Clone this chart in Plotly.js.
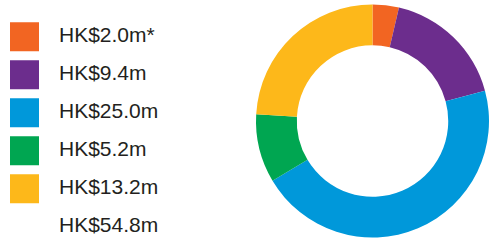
<!DOCTYPE html>
<html>
<head>
<meta charset="utf-8">
<script src="https://cdn.plot.ly/plotly-3.0.1.min.js"></script>
<style>
html,body{margin:0;padding:0;background:#fff;}
#chart{width:489px;height:242px;}
</style>
</head>
<body>
<div id="chart"></div>
<script>
// Data
const labels = ["HK$2.0m*", "HK$9.4m", "HK$25.0m", "HK$5.2m", "HK$13.2m"];
const values = [2.0, 9.4, 25.0, 5.2, 13.2];
const colors = ["#F26522", "#6C2D8D", "#0098DA", "#00A651", "#FDB81A"];
const totalLabel = "HK$54.8m";

const FONT = '"Liberation Sans", Arial, Helvetica, sans-serif';
const rowIdx = labels.map((_, i) => i);
const allLabels = labels.concat([totalLabel]);
const allIdx = allLabels.map((_, i) => i);

const traces = [
  {
    type: 'pie',
    values: values,
    labels: labels,
    marker: {colors: colors, line: {width: 0}},
    hole: 0.65,
    sort: false,
    direction: 'clockwise',
    rotation: 0,
    textinfo: 'none',
    hoverinfo: 'none',
    showlegend: false,
    domain: {x: [256/489, 1], y: [4/242, 238/242]}
  },
  {
    type: 'scatter',
    mode: 'markers',
    x: rowIdx.map(() => 24.5),
    y: rowIdx,
    marker: {symbol: 'square', size: 29, color: colors, line: {width: 0}},
    hoverinfo: 'none',
    showlegend: false,
    xaxis: 'x', yaxis: 'y'
  },
  {
    type: 'scatter',
    mode: 'text',
    x: allIdx.map(() => 59),
    y: allIdx,
    text: allLabels,
    textposition: 'middle right',
    textfont: {family: FONT, size: 21, color: '#231F20'},
    hoverinfo: 'none',
    showlegend: false,
    xaxis: 'x', yaxis: 'y'
  }
];

const rowStart = 36.8, rowStep = 38;
const layout = {
  width: 489, height: 242,
  margin: {l: 0, r: 0, t: 0, b: 0, pad: 0},
  paper_bgcolor: '#fff', plot_bgcolor: 'rgba(0,0,0,0)',
  showlegend: false,
  xaxis: {domain: [0, 0.5], range: [0, 244.5], visible: false, fixedrange: true},
  yaxis: {domain: [0, 1], range: [(242 - rowStart) / rowStep, -rowStart / rowStep], visible: false, fixedrange: true},
  font: {family: FONT}
};

Plotly.newPlot('chart', traces, layout, {staticPlot: true, displayModeBar: false});
</script>
</body>
</html>
